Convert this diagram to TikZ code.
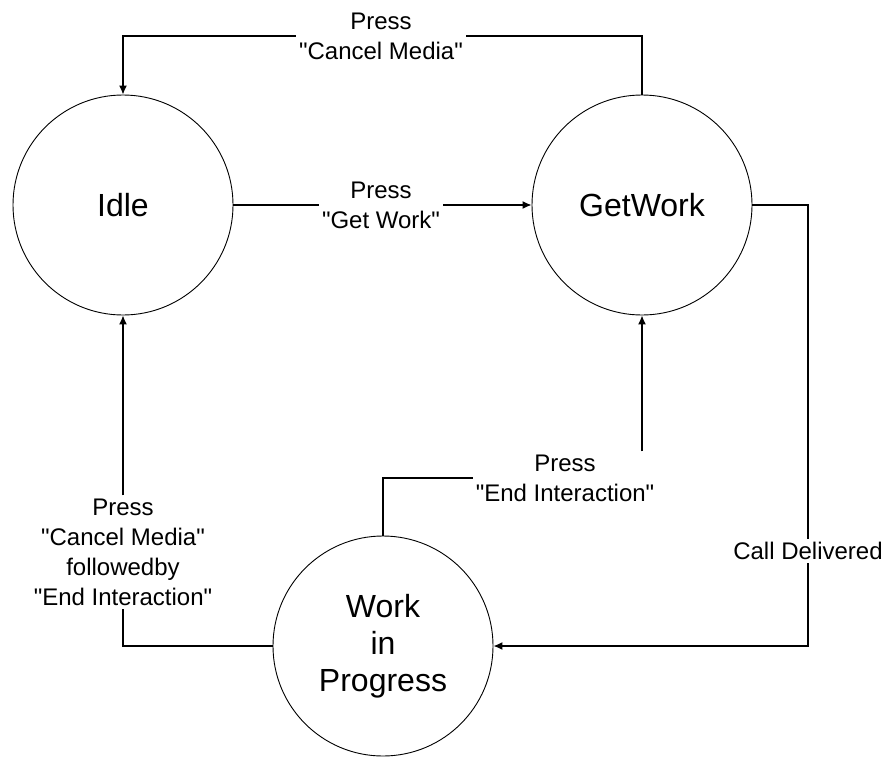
\documentclass[tikz,border=0pt]{standalone}
\usepackage{fontspec}
\setmainfont{Liberation Sans}[Ligatures=TeXOff]
\usetikzlibrary{arrows.meta}
\begin{document}
\begin{tikzpicture}
    [
    x=1pt, y=-1pt,
    state/.style={circle,draw,line width=0.9pt,inner sep=0pt,minimum size=220pt,align=center,font=\fontsize{32}{37}\selectfont},
    lbl/.style={align=center,inner sep=3pt,font=\fontsize{24}{30}\selectfont},
    trans/.style={line width=1.3pt}
    ]
    \useasboundingbox (0,0) rectangle (882,757);
    \node (idle) at (123,205) [state] {Idle};
    \node (getwork) at (642,205) [state] {GetWork};
    \node (wip) at (383,646) [state] {Work\\in\\Progress};
    \node (cancelTop) at (381,36) [lbl] {Press\\"Cancel Media"};
    \node (getLbl) at (381,205) [lbl] {Press\\"Get Work"};
    \node (delivered) at (808,551) [lbl] {Call Delivered};
    \node (endLbl) at (565,478) [lbl] {Press\\"End Interaction"};
    \node (cancelEnd) at (123,552) [lbl] {Press\\"Cancel Media"\\followedby\\"End Interaction"};
    \draw [trans] (getwork.north) |- (cancelTop.east);
    \draw [trans, -{Latex[length=9pt,width=8pt]}] (cancelTop.west) -| (idle.north);
    \draw [trans] (idle.east) -- (getLbl.west);
    \draw [trans, -{Latex[length=9pt,width=8pt]}] (getLbl.east) -- (getwork.west);
    \draw [trans] (getwork.east) -| (delivered.north);
    \draw [trans, -{Latex[length=9pt,width=8pt]}] (delivered.south) |- (wip.east);
    \draw [trans] (wip.north) |- (endLbl.west);
    \draw [trans, -{Latex[length=9pt,width=8pt]}] (endLbl.north -| getwork.south) -- (getwork.south);
    \draw [trans] (wip.west) -| (cancelEnd.south);
    \draw [trans, -{Latex[length=9pt,width=8pt]}] (cancelEnd.north) -- (idle.south);
  \end{tikzpicture}
\end{document}
